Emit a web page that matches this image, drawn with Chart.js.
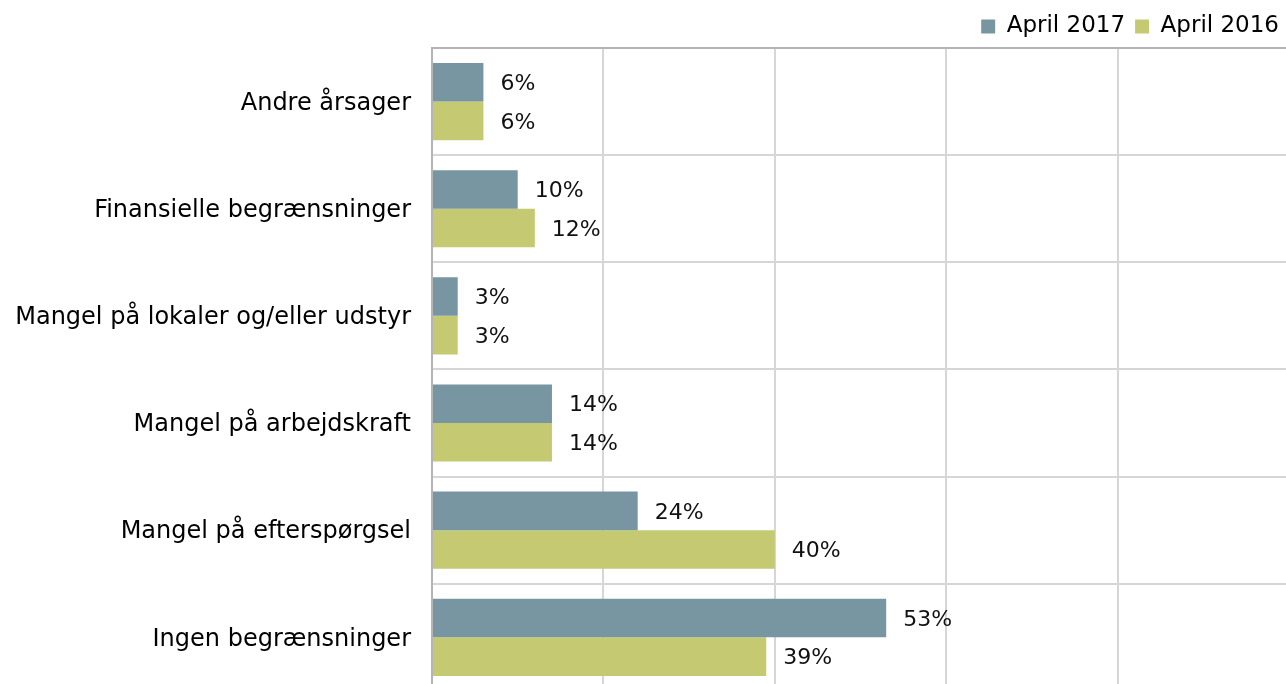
<!DOCTYPE html>
<html>
<head>
<meta charset="utf-8">
<script src="https://cdn.jsdelivr.net/npm/chart.js@4.4.0/dist/chart.umd.min.js"></script>
<style>
  html, body { margin: 0; padding: 0; overflow: hidden; background: #fff; }
  canvas { display: block; }
</style>
</head>
<body>
<canvas id="c" width="1289" height="691"></canvas>
<script>
const categories = [
  "Andre årsager",
  "Finansielle begrænsninger",
  "Mangel på lokaler og/eller udstyr",
  "Mangel på arbejdskraft",
  "Mangel på efterspørgsel",
  "Ingen begrænsninger"
];
const series2017 = [6, 10, 3, 14, 24, 53];
const series2016 = [6, 12, 3, 14, 40, 39];
const seriesNames = ["April 2017", "April 2016"];
const xTicks = [0, 20, 40, 60, 80, 100];

const FONT = "'DejaVu Sans', Verdana, sans-serif";

const valueLabels = {
  id: 'valueLabels',
  afterDatasetsDraw(chart) {
    const ctx = chart.ctx;
    ctx.save();
    ctx.font = "22px " + FONT;
    ctx.fillStyle = '#111';
    ctx.textAlign = 'left';
    ctx.textBaseline = 'middle';
    chart.data.datasets.forEach((ds, i) => {
      const meta = chart.getDatasetMeta(i);
      meta.data.forEach((el, j) => {
        ctx.fillText(ds.data[j] + '%', el.x + 17, el.y + 2);
      });
    });
    ctx.restore();
  }
};

new Chart(document.getElementById('c'), {
  type: 'bar',
  data: {
    labels: categories,
    datasets: [
      { label: seriesNames[0], data: series2017, backgroundColor: '#7896a2', categoryPercentage: 0.72, barPercentage: 1.0 },
      { label: seriesNames[1], data: series2016, backgroundColor: '#c5ca72', categoryPercentage: 0.72, barPercentage: 1.0 }
    ]
  },
  options: {
    indexAxis: 'y',
    responsive: false,
    animation: false,
    layout: { padding: { left: 0, right: 0, top: 5, bottom: 0 } },
    plugins: {
      legend: {
        position: 'top',
        align: 'end',
        labels: {
          font: { family: FONT, size: 23 },
          color: '#000',
          boxWidth: 14,
          boxHeight: 14,
          padding: 10
        }
      },
      tooltip: { enabled: false }
    },
    scales: {
      x: {
        position: 'top',
        min: 0,
        max: 100,
        afterBuildTicks(scale) { scale.ticks = xTicks.map(v => ({ value: v })); },
        ticks: { display: false },
        grid: { color: '#d6d6d6', lineWidth: 2, drawTicks: false },
        border: { display: true, color: '#b4b4b4', width: 2 }
      },
      y: {
        afterFit(scale) { scale.width = 432; },
        ticks: {
          font: { family: FONT, size: 24, lineHeight: 0.01 },
          color: '#000',
          padding: 0,
          labelOffset: 2
        },
        grid: { color: '#d6d6d6', lineWidth: 2, offset: true, drawTicks: true, tickLength: 21, tickColor: 'rgba(0,0,0,0)' },
        border: { display: true, color: '#b4b4b4', width: 2 }
      }
    }
  },
  plugins: [valueLabels]
});
</script>
</body>
</html>
